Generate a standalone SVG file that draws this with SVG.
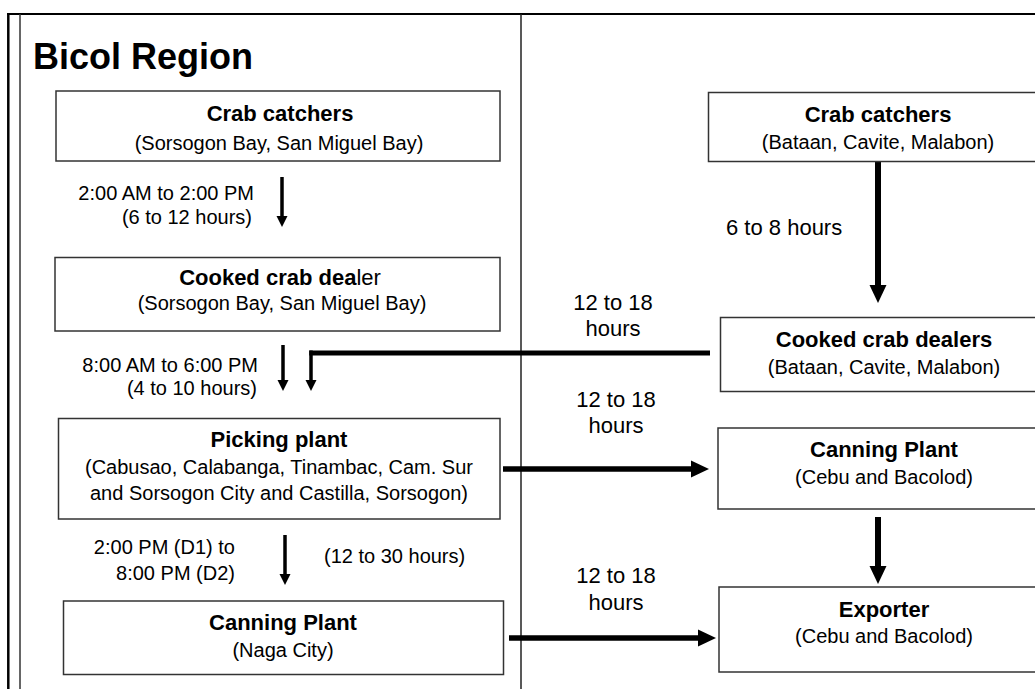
<svg xmlns="http://www.w3.org/2000/svg" width="1035" height="689" viewBox="0 0 1035 689">
<style>
text{font-family:"Liberation Sans",Arial,sans-serif;fill:#000}
.t{font-size:22px;font-weight:bold;text-anchor:middle}
.s{font-size:20px;text-anchor:middle}
.l{font-size:20px}
.e{text-anchor:end}
.h{font-size:22px;text-anchor:middle}
.box{fill:#fff;stroke:#333;stroke-width:1.5}
.a3{stroke:#000;stroke-width:3.5;fill:none}
.a6{stroke:#000;stroke-width:6;fill:none}
.a5{stroke:#000;stroke-width:5.5;fill:none}
</style>
<defs>
<marker id="hs" markerUnits="userSpaceOnUse" markerWidth="12" markerHeight="12" refX="0" refY="5.5" orient="auto" viewBox="0 0 12 11" overflow="visible"><polygon points="0,0 11,5.5 0,11" fill="#000"/></marker>
<marker id="hl" markerUnits="userSpaceOnUse" markerWidth="19" markerHeight="18" refX="0" refY="8.5" orient="auto" viewBox="0 0 19 17" overflow="visible"><polygon points="0,0 18,8.5 0,17" fill="#000"/></marker>
</defs>
<rect width="1035" height="689" fill="#fff"/>
<g id="frame">
<line x1="7" y1="14" x2="1035" y2="14" stroke="#000" stroke-width="2"/>
<line x1="8.3" y1="13" x2="8.3" y2="689" stroke="#000" stroke-width="2.5"/>
<line x1="20" y1="14" x2="20" y2="689" stroke="#333" stroke-width="1.5"/>
<line x1="521" y1="14" x2="521" y2="689" stroke="#222" stroke-width="1.5"/>
<text x="33" y="69" style="font-size:36px;font-weight:bold">Bicol Region</text>
</g>
<g id="connectors">
<line class="a3" x1="282" y1="177" x2="282" y2="216" marker-end="url(#hs)"/>
<line class="a3" x1="283" y1="345" x2="283" y2="380" marker-end="url(#hs)"/>
<line x1="710" y1="353" x2="309.25" y2="353" stroke="#000" stroke-width="5"/>
<line class="a3" x1="311" y1="350.5" x2="311" y2="380" marker-end="url(#hs)"/>
<line class="a3" x1="285" y1="535" x2="285" y2="574" marker-end="url(#hs)"/>
<line class="a6" x1="878" y1="161" x2="878" y2="285" marker-end="url(#hl)"/>
<line class="a6" x1="878" y1="517" x2="878" y2="566" marker-end="url(#hl)"/>
<line class="a5" x1="503" y1="469" x2="691" y2="469" marker-end="url(#hl)"/>
<line class="a5" x1="509" y1="638" x2="698" y2="638" marker-end="url(#hl)"/>
<text class="l e" x="254" y="200">2:00 AM to 2:00 PM</text>
<text class="l e" x="252" y="224">(6 to 12 hours)</text>
<text class="l e" x="258" y="372">8:00 AM to 6:00 PM</text>
<text class="l e" x="257" y="395">(4 to 10 hours)</text>
<text class="l e" x="235" y="554">2:00 PM (D1) to</text>
<text class="l e" x="235" y="580">8:00 PM (D2)</text>
<text class="l" x="324" y="563">(12 to 30 hours)</text>
<text x="726" y="235" style="font-size:22px">6 to 8 hours</text>
<text class="h" x="613" y="310">12 to 18</text>
<text class="h" x="613" y="336">hours</text>
<text class="h" x="616" y="407">12 to 18</text>
<text class="h" x="616" y="433">hours</text>
<text class="h" x="616" y="583">12 to 18</text>
<text class="h" x="616" y="610">hours</text>
</g>
<g id="bicol-crab-catchers">
<rect class="box" x="56" y="91" width="444" height="70"/>
<text class="t" x="280" y="121">Crab catchers</text>
<text class="s" x="279" y="150">(Sorsogon Bay, San Miguel Bay)</text>
</g>
<g id="bicol-cooked-crab-dealer">
<rect class="box" x="55" y="257.5" width="445" height="73.5"/>
<text class="t" x="280" y="285">Cooked crab dea<tspan font-weight="normal">ler</tspan></text>
<text class="s" x="282" y="310">(Sorsogon Bay, San Miguel Bay)</text>
</g>
<g id="picking-plant">
<rect class="box" x="58.5" y="418.5" width="441.5" height="100.5"/>
<text class="t" x="279" y="447">Picking plant</text>
<text class="s" x="279" y="474">(Cabusao, Calabanga, Tinambac, Cam. Sur</text>
<text class="s" x="279" y="500">and Sorsogon City and Castilla, Sorsogon)</text>
</g>
<g id="canning-plant-naga">
<rect class="box" x="63.5" y="601" width="440" height="73.5"/>
<text class="t" x="283" y="630">Canning Plant</text>
<text class="s" x="283" y="657">(Naga City)</text>
</g>
<g id="manila-crab-catchers">
<rect class="box" x="708.5" y="92.5" width="340" height="69"/>
<text class="t" x="878" y="122">Crab catchers</text>
<text class="s" x="878" y="149">(Bataan, Cavite, Malabon)</text>
</g>
<g id="manila-cooked-crab-dealers">
<rect class="box" x="720.5" y="317.5" width="330" height="74"/>
<text class="t" x="884" y="347">Cooked crab dealers</text>
<text class="s" x="884" y="374">(Bataan, Cavite, Malabon)</text>
</g>
<g id="canning-plant-cebu">
<rect class="box" x="718" y="428" width="330" height="81"/>
<text class="t" x="884" y="457">Canning Plant</text>
<text class="s" x="884" y="484">(Cebu and Bacolod)</text>
</g>
<g id="exporter">
<rect class="box" x="719" y="587" width="330" height="85"/>
<text class="t" x="884" y="617">Exporter</text>
<text class="s" x="884" y="643">(Cebu and Bacolod)</text>
</g>
</svg>
